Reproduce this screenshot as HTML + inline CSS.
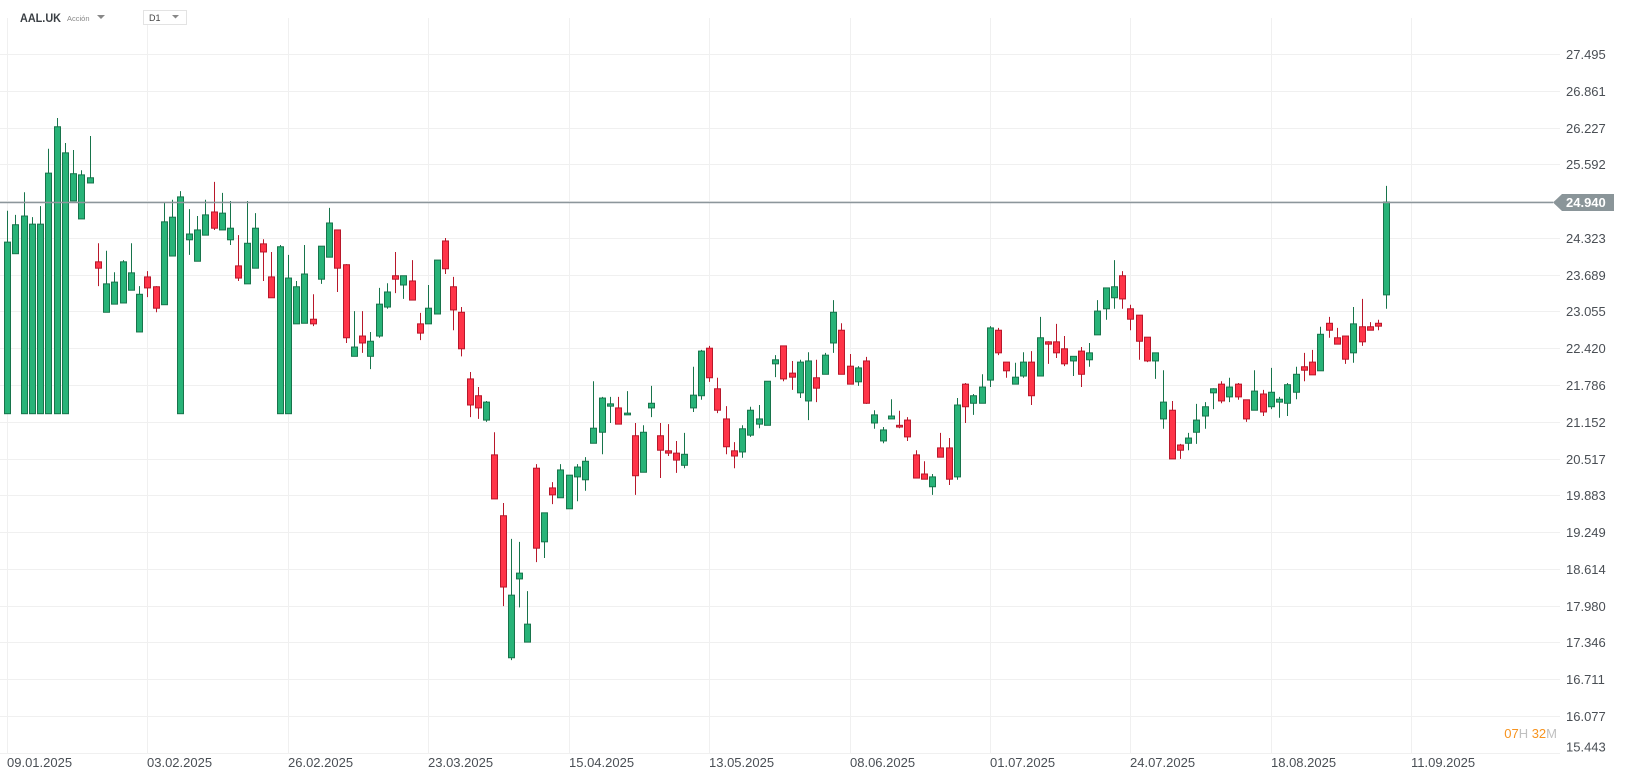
<!DOCTYPE html>
<html><head><meta charset="utf-8"><style>
html,body{margin:0;padding:0;background:#fff;width:1626px;height:779px;overflow:hidden;font-family:"Liberation Sans",sans-serif;}
svg{position:absolute;left:0;top:0;}
</style></head><body>
<svg id="chart" width="1626" height="779" viewBox="0 0 1626 779" xmlns="http://www.w3.org/2000/svg">
<g id="grid"></g>
<g id="candles"></g>
<g id="yaxis"></g>
<g id="xaxis"></g>
<g>
<text x="20" y="22" font-size="11.5" font-weight="bold" fill="#3a3f44" textLength="41" lengthAdjust="spacingAndGlyphs">AAL.UK</text>
<text x="67" y="21" font-size="7.5" fill="#888">Acción</text>
<path d="M97 15 L105 15 L101 19 Z" fill="#888"/>
<rect x="143.5" y="10.5" width="43" height="14" fill="#fff" stroke="#e3e3e3"/>
<text x="149" y="21" font-size="9" fill="#444">D1</text>
<path d="M172 15 L179 15 L175.5 18.5 Z" fill="#888"/>
</g>
<text x="1557" y="738" font-size="13" text-anchor="end"><tspan fill="#f7931e">07</tspan><tspan fill="#c0c0c0">H </tspan><tspan fill="#f7931e">32</tspan><tspan fill="#c0c0c0">M</tspan></text>
</svg>
<script>
const opens=[21.29,24.05,21.29,21.29,21.29,21.29,21.29,21.29,24.96,24.65,25.27,23.91,23.04,23.18,23.20,23.42,22.70,23.65,23.48,23.17,24.01,21.29,24.29,23.92,24.37,24.77,24.46,24.29,23.84,23.53,23.80,24.22,23.65,21.29,21.29,22.84,22.85,22.92,23.61,23.99,24.46,23.86,22.28,22.63,22.28,22.63,23.13,23.67,23.51,23.58,22.84,22.84,23.01,24.27,23.48,23.04,21.89,21.60,21.18,20.58,19.53,17.08,18.44,17.35,20.35,19.08,20.01,19.84,19.65,20.20,20.15,20.78,20.97,21.42,21.39,21.27,20.91,20.28,21.39,20.91,20.65,20.61,20.40,21.39,21.60,22.42,21.72,21.20,20.65,20.63,20.92,21.11,21.09,22.15,22.46,21.99,21.65,21.51,21.91,21.97,22.51,22.73,22.11,21.84,22.20,21.13,20.82,21.20,21.09,21.18,20.58,20.25,20.03,20.70,20.70,20.20,21.80,21.47,21.47,21.87,22.73,22.18,21.80,21.94,22.18,21.94,22.53,22.53,22.41,22.20,22.37,22.22,22.65,23.10,23.29,23.67,23.10,22.99,22.61,22.20,21.20,21.35,20.75,20.78,20.97,21.25,21.65,21.80,21.58,21.80,21.53,21.35,21.63,21.41,21.49,21.47,21.66,22.10,22.18,22.03,22.85,22.60,22.63,22.34,22.79,22.79,22.85,23.34];
const highs=[24.79,24.72,25.11,24.68,24.87,25.86,26.39,25.96,25.84,25.49,26.08,24.23,24.10,23.73,23.94,24.23,23.49,23.75,23.49,24.94,24.98,25.13,24.82,24.70,24.98,25.29,25.10,24.96,24.37,24.96,24.75,24.30,24.08,24.20,24.03,23.58,24.20,23.35,24.18,24.84,24.46,23.87,23.06,23.06,22.70,23.46,23.54,24.08,23.67,23.94,23.03,23.51,23.94,24.32,23.65,23.13,22.01,21.75,21.51,20.97,19.75,19.13,19.08,18.23,20.42,19.58,20.11,20.42,20.23,20.42,20.54,21.85,21.58,21.58,21.58,21.68,21.13,21.09,21.77,21.13,21.11,20.82,20.96,22.10,22.39,22.46,21.91,21.42,20.80,21.09,21.41,21.44,21.85,22.30,22.46,22.20,22.22,22.35,22.22,22.34,23.25,22.85,22.32,22.11,22.27,21.35,21.06,21.54,21.34,21.23,20.66,20.47,20.25,20.96,20.87,21.56,21.82,21.63,21.97,22.80,22.77,22.18,22.17,22.35,22.37,22.96,22.54,22.84,22.63,22.28,22.44,22.51,23.25,23.46,23.94,23.75,23.17,22.99,22.61,22.34,22.04,21.51,20.77,20.96,21.46,21.49,21.73,21.85,21.91,21.82,21.53,22.04,21.70,22.08,21.58,21.82,22.10,22.34,22.39,22.79,22.96,22.77,22.63,23.13,23.27,22.87,22.91,25.22];
const lows=[21.29,24.05,21.29,21.29,21.29,21.29,21.29,21.29,24.96,24.65,25.27,23.49,23.04,23.18,23.20,23.42,22.70,23.30,23.04,23.17,24.01,21.29,24.03,23.92,24.37,24.46,24.46,24.20,23.58,23.53,23.80,23.58,23.29,21.29,21.29,22.84,22.85,22.80,23.53,23.99,23.39,22.51,22.28,22.34,22.06,22.60,23.10,23.37,23.27,23.25,22.56,22.84,23.01,23.70,22.73,22.28,21.23,21.20,21.15,19.82,17.97,17.04,17.95,17.35,18.73,18.80,19.73,19.84,19.65,19.78,19.96,20.78,20.59,21.13,21.11,21.27,19.89,20.28,21.23,20.18,20.56,20.27,20.35,21.32,21.53,21.84,21.30,20.59,20.35,20.53,20.89,21.04,21.09,21.92,21.85,21.70,21.56,21.18,21.49,21.97,22.34,21.97,21.80,21.77,21.46,21.03,20.78,21.20,21.04,20.82,20.18,20.16,19.89,20.54,20.06,20.15,21.13,21.27,21.47,21.75,22.30,21.91,21.80,21.91,21.44,21.94,22.15,22.25,22.11,21.94,21.75,22.10,22.65,22.91,23.10,23.10,22.73,22.22,22.18,21.89,21.03,20.51,20.51,20.66,20.77,21.03,21.37,21.47,21.49,21.53,21.15,21.35,21.25,21.37,21.22,21.25,21.54,21.85,21.96,22.03,22.60,22.49,22.15,22.17,22.46,22.73,22.73,23.10];
const closes=[24.25,24.55,24.70,24.56,24.56,25.44,26.24,25.79,25.43,25.41,25.36,23.80,23.53,23.56,23.91,23.72,23.35,23.46,23.11,24.60,24.68,25.03,24.39,24.46,24.72,24.49,24.75,24.49,23.63,24.23,24.49,24.08,23.29,24.17,23.63,23.48,23.70,22.84,24.18,24.58,23.80,22.60,22.44,22.51,22.54,23.18,23.39,23.61,23.67,23.25,22.68,23.11,23.94,23.79,23.08,22.41,21.44,21.39,21.49,19.82,18.30,18.16,18.54,17.66,18.97,19.58,19.89,20.32,20.23,20.37,20.47,21.04,21.56,21.46,21.11,21.30,20.22,20.97,21.47,20.66,20.61,20.49,20.59,21.61,22.37,21.91,21.35,20.72,20.56,21.03,21.35,21.20,21.85,22.22,21.89,21.92,22.18,22.20,21.73,22.30,23.04,21.97,21.80,22.08,21.47,21.27,21.01,21.25,21.06,20.89,20.18,20.16,20.20,20.54,20.16,21.44,21.41,21.60,21.75,22.77,22.34,22.03,21.92,22.18,21.60,22.60,22.49,22.34,22.15,22.28,21.97,22.34,23.06,23.46,23.48,23.27,22.92,22.54,22.20,22.34,21.49,20.51,20.66,20.87,21.18,21.41,21.72,21.51,21.75,21.58,21.20,21.68,21.32,21.66,21.54,21.79,21.97,22.04,21.96,22.66,22.73,22.49,22.23,22.84,22.53,22.73,22.80,24.94];
const priceTicks=[27.495,26.861,26.227,25.592,24.958,24.323,23.689,23.055,22.420,21.786,21.152,20.517,19.883,19.249,18.614,17.980,17.346,16.711,16.077,15.443];
const dateLabels=["09.01.2025","03.02.2025","26.02.2025","23.03.2025","15.04.2025","13.05.2025","08.06.2025","01.07.2025","24.07.2025","18.08.2025","11.09.2025"];
const lastPrice=24.940;

const NS="http://www.w3.org/2000/svg";
function yScale(p){return 54+(27.495-p)*57.97;}
function xScale(i){return 7+i*8.26;}
function mk(tag,attrs,parent){const e=document.createElementNS(NS,tag);for(const k in attrs)e.setAttribute(k,attrs[k]);parent.appendChild(e);return e;}
const grid=document.getElementById('grid'),cg=document.getElementById('candles'),ya=document.getElementById('yaxis'),xa=document.getElementById('xaxis');

priceTicks.forEach((t,i)=>{
  const y=Math.round(yScale(t))+0.5;
  const l=mk('line',{x1:0,x2:1560,y1:y,y2:y,stroke:'#f0f0f0','stroke-width':1},grid);
  
  
  if(Math.abs(t-lastPrice)<0.05)return;
  const tx=mk('text',{x:1566,y:(i==priceTicks.length-1?y-2:y+4.5),'font-size':13,fill:'#4a4f55'},ya);
  tx.textContent=t.toFixed(3);
  
  
});
dateLabels.forEach((d,k)=>{
  const x=Math.round(xScale(k*17))+0.5;
  const l=mk('line',{x1:x,x2:x,y1:18,y2:753,stroke:'#f0f0f0','stroke-width':1},grid);
  
  
  const tx=mk('text',{x:x-0.5,y:767,'font-size':13,fill:'#4a4f55'},xa);
  tx.textContent=d;
  
  
});

for(let i=0;i<opens.length;i++){
  const up=closes[i]>=opens[i];
  const stroke=up?'#17744b':'#b8172a', fill=up?'#28b378':'#ff3448';
  const cx=Math.round(xScale(i))+0.5;
  const w=mk('line',{x1:cx,x2:cx,y1:yScale(highs[i]),y2:yScale(lows[i]),stroke:stroke,'stroke-width':1},cg);
  
  
  const top=yScale(Math.max(opens[i],closes[i])), bot=yScale(Math.min(opens[i],closes[i]));
  const r=mk('rect',{x:cx-3,y:top,width:6,height:Math.max(1.5,bot-top),fill:fill,stroke:stroke,'stroke-width':1},cg);
  
  
}

const ly=Math.round(yScale(lastPrice))+0.5;
const pl=mk('line',{x1:0,x2:1553,y1:ly,y2:ly,stroke:'#8c969b','stroke-width':1.5},ya);


const tag=mk('path',{d:`M1553 ${ly} L1562 ${ly-8.5} L1614 ${ly-8.5} L1614 ${ly+8.5} L1562 ${ly+8.5} Z`,fill:'#8a9599'},ya);


const tt=mk('text',{x:1566,y:ly+4.5,'font-size':13,'font-weight':'bold',fill:'#fff'},ya);
tt.textContent=lastPrice.toFixed(3);


</script>
</body></html>
